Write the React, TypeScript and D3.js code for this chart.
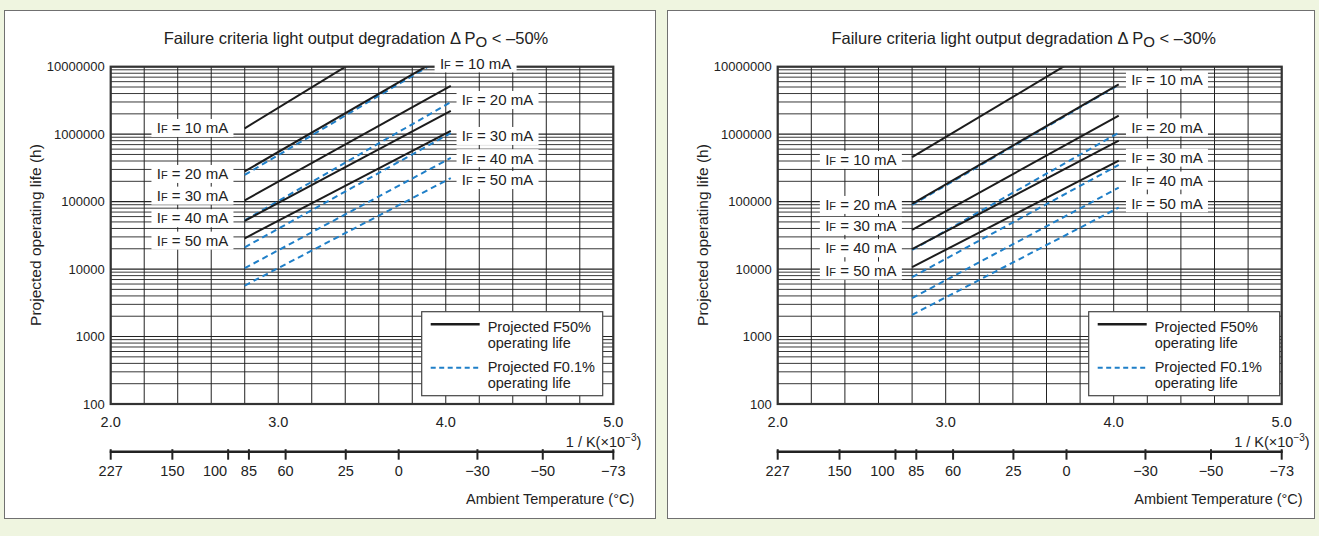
import React from "react";
import * as d3 from "d3";

// ---------------- data ----------------
const currents = ["10", "20", "30", "40", "50"];
const invKTicks = [2.0, 3.0, 4.0, 5.0];
const tempLabels = ["227", "150", "100", "85", "60", "25", "0", "\u221230", "\u221250", "\u221273"];
const tempPositions = [2.0, 2.368, 2.701, 2.825, 3.044, 3.403, 3.719, 4.189, 4.579, 5.0];
const decades = [100, 1000, 10000, 100000, 1000000, 10000000];
const lineSpan = [2.8, 4.03];

// ΔPo < -50 %
const leftF50Start = [1.22e6, 2.81e5, 1.045e5, 5.18e4, 2.86e4];
const leftF50End = [9.0e7, 1.64e7, 5.2e6, 2.22e6, 1.12e6];
const leftF01Start = [2.49e5, 5.28e4, 2.1e4, 1.03e4, 5.7e3];
const leftF01End = [1.58e7, 2.99e6, 1.04e6, 4.45e5, 2.23e5];
const leftLabelsLeftValue = [1.236e6, 2.57e5, 1.227e5, 5.68e4, 2.64e4];
const leftLabelsRightValue = [1.12e7, 3.21e6, 9.4e5, 4.4e5, 2.09e5];

// ΔPo < -30 %
const rightF50Start = [4.55e5, 9.25e4, 3.81e4, 1.97e4, 1.07e4];
const rightF50End = [3.1e7, 5.48e6, 1.88e6, 8.0e5, 4.05e5];
const rightF01Start = [8.93e4, 1.92e4, 7.6e3, 3.7e3, 2.1e3];
const rightF01End = [5.37e6, 1.05e6, 3.5e5, 1.61e5, 8.15e4];
const rightLabelsLeftValue = [4.15e5, 8.93e4, 4.37e4, 2.04e4, 9.5e3];
const rightLabelsRightValue = [6.35e6, 1.26e6, 4.49e5, 2.05e5, 9.46e4];

// ---------------- styles ----------------
const FONT = "'Liberation Sans', Arial, Helvetica, sans-serif";
const BG = "#eff5e0";
const BLACK = "#1c1c1c";
const BLUE = "#1f7fc8";
const TXT = "#222";

type PanelProps = {
  id: string;
  box: [number, number, number, number];
  plotLeft: number;
  plotWidth: number;
  pct: string;
  f50Start: number[];
  f50End: number[];
  f01Start: number[];
  f01End: number[];
  labelsLeftX: number;
  labelsLeftValue: number[];
  labelsRightX: number[];
  labelsRightValue: number[];
  legendWidth: number;
};

const IFLabel = ({ cx, cy, cur }: { cx: number; cy: number; cur: string }) => (
  <g>
    <rect x={cx - 41} y={cy - 9} width={82} height={18} fill="#fff" />
    <text x={cx} y={cy + 5.3} textAnchor="middle" fontSize={15} fill={TXT}>
      I<tspan fontSize={11}>F</tspan> = {cur} mA
    </text>
  </g>
);

function Panel(p: PanelProps) {
  const pl = p.plotLeft;
  const pr = pl + p.plotWidth;
  const top = 66.7;
  const bottom = 404;
  const x = d3.scaleLinear().domain([2, 5]).range([pl, pr]);
  const y = d3.scaleLog().domain([100, 1e7]).range([bottom, top]);
  const minor: number[] = [];
  decades.slice(0, -1).forEach((d) => {
    for (let m = 2; m <= 9; m++) minor.push(d * m);
  });
  const vgrid = d3.range(0, 16).map((i) => 2 + i * 0.2);
  const line = d3
    .line<[number, number]>()
    .x((d) => x(d[0]))
    .y((d) => y(d[1]));
  const clipId = `clip-${p.id}`;
  const axisY = 451.7;
  const legX = pl + 311;
  const legY = 311.7;
  return (
    <g fontFamily={FONT}>
      <rect x={p.box[0]} y={p.box[1]} width={p.box[2]} height={p.box[3]} fill="#fff" stroke="#707070" strokeWidth={1} />
      <text x={(pl + pr) / 2 - 6} y={44} textAnchor="middle" fontSize={16.5} fill={TXT}>
        Failure criteria light output degradation {"\u0394"} P<tspan fontSize={15} dy={3}>O</tspan>
        <tspan dy={-3}> {"< \u2013" + p.pct}</tspan>
      </text>
      <defs>
        <clipPath id={clipId}>
          <rect x={pl} y={top} width={pr - pl} height={bottom - top} />
        </clipPath>
      </defs>
      {/* grid */}
      {minor.map((v) => (
        <line key={"m" + v} x1={pl} x2={pr} y1={y(v)} y2={y(v)} stroke="#222" strokeWidth={0.9} />
      ))}
      {decades.map((v) => (
        <line key={"d" + v} x1={pl} x2={pr} y1={y(v)} y2={y(v)} stroke="#222" strokeWidth={1.1} />
      ))}
      {vgrid.map((v) => (
        <line key={"v" + v} x1={x(v)} x2={x(v)} y1={top} y2={bottom} stroke="#222" strokeWidth={1} />
      ))}
      {/* data lines */}
      <g clipPath={`url(#${clipId})`}>
        {currents.map((c, i) => (
          <path
            key={"b" + c}
            d={line([
              [lineSpan[0], p.f01Start[i]],
              [lineSpan[1], p.f01End[i]],
            ]) as string}
            stroke={BLUE}
            strokeWidth={2}
            strokeDasharray="6,4"
            fill="none"
          />
        ))}
        {currents.map((c, i) => (
          <path
            key={"k" + c}
            d={line([
              [lineSpan[0], p.f50Start[i]],
              [lineSpan[1], p.f50End[i]],
            ]) as string}
            stroke={BLACK}
            strokeWidth={2}
            fill="none"
          />
        ))}
      </g>
      {/* plot frame */}
      <rect x={pl} y={top} width={pr - pl} height={bottom - top} fill="none" stroke="#333" strokeWidth={2.2} />
      {/* IF labels */}
      {currents.map((c, i) => (
        <IFLabel key={"ll" + c} cx={x(p.labelsLeftX)} cy={y(p.labelsLeftValue[i])} cur={c} />
      ))}
      {currents.map((c, i) => (
        <IFLabel key={"lr" + c} cx={x(p.labelsRightX[i])} cy={y(p.labelsRightValue[i])} cur={c} />
      ))}
      {/* legend */}
      <rect x={legX} y={legY} width={p.legendWidth} height={84} fill="#fff" stroke="#444" strokeWidth={1.2} />
      <line x1={legX + 9} x2={legX + 58} y1={legY + 12.5} y2={legY + 12.5} stroke={BLACK} strokeWidth={2.5} />
      <text x={legX + 66} y={legY + 20.5} fontSize={14.5} fill={TXT}>Projected F50%</text>
      <text x={legX + 66} y={legY + 36} fontSize={14.5} fill={TXT}>operating life</text>
      <line x1={legX + 9} x2={legX + 58} y1={legY + 56} y2={legY + 56} stroke={BLUE} strokeWidth={2} strokeDasharray="5,3.5" />
      <text x={legX + 66} y={legY + 60.5} fontSize={14.5} fill={TXT}>Projected F0.1%</text>
      <text x={legX + 66} y={legY + 76} fontSize={14.5} fill={TXT}>operating life</text>
      {/* y axis */}
      {decades.map((v) => (
        <text key={"yt" + v} x={pl - 6} y={y(v) + 4.5} textAnchor="end" fontSize={13} fill={TXT}>
          {d3.format("d")(v)}
        </text>
      ))}
      <text transform={`translate(${pl - 70},235) rotate(-90)`} textAnchor="middle" fontSize={15.5} fill={TXT}>
        Projected operating life (h)
      </text>
      {/* 1/K axis labels */}
      {invKTicks.map((v) => (
        <text key={"xt" + v} x={x(v)} y={427} textAnchor="middle" fontSize={14.5} fill={TXT}>
          {v.toFixed(1)}
        </text>
      ))}
      <text x={pr + 28} y={446.5} textAnchor="end" fontSize={14.5} fill={TXT}>
        1 / K(×10<tspan fontSize={10} dy={-5.5}>{"\u22123"}</tspan>
        <tspan dy={5.5}>)</tspan>
      </text>
      {/* temperature axis */}
      <line x1={x(2) - 1} x2={x(5) + 1} y1={axisY} y2={axisY} stroke="#222" strokeWidth={2.5} />
      {tempPositions.map((v, i) => (
        <line key={"tt" + i} x1={x(v)} x2={x(v)} y1={axisY - 2.5} y2={axisY + 8} stroke="#222" strokeWidth={2} />
      ))}
      {tempLabels.map((t, i) => (
        <text
          key={"tl" + i}
          x={t === "100" ? x(tempPositions[i]) - 1 : x(tempPositions[i])}
          y={476}
          textAnchor={t === "100" ? "end" : "middle"}
          fontSize={14.5}
          fill={TXT}
        >
          {t}
        </text>
      ))}
      <text x={pr + 21} y={503.5} textAnchor="end" fontSize={14.5} fill={TXT}>
        Ambient Temperature (°C)
      </text>
    </g>
  );
}

export default function App() {
  return (
    <svg
      width={1319}
      height={536}
      style={{ position: "absolute", left: 0, top: 0, display: "block" }}
    >
      <rect width={1319} height={536} fill={BG} />
      <Panel
        id="l"
        box={[4.5, 10.5, 651, 508]}
        plotLeft={110.7}
        plotWidth={502.6}
        pct="50%"
        f50Start={leftF50Start}
        f50End={leftF50End}
        f01Start={leftF01Start}
        f01End={leftF01End}
        labelsLeftX={2.488}
        labelsLeftValue={leftLabelsLeftValue}
        labelsRightX={[4.178, 4.309, 4.309, 4.309, 4.309]}
        labelsRightValue={leftLabelsRightValue}
        legendWidth={181}
      />
      <Panel
        id="r"
        box={[667.5, 10.5, 647, 508]}
        plotLeft={777.7}
        plotWidth={504}
        pct="30%"
        f50Start={rightF50Start}
        f50End={rightF50End}
        f01Start={rightF01Start}
        f01End={rightF01End}
        labelsLeftX={2.495}
        labelsLeftValue={rightLabelsLeftValue}
        labelsRightX={[4.317, 4.317, 4.317, 4.317, 4.317]}
        labelsRightValue={rightLabelsRightValue}
        legendWidth={191}
      />
    </svg>
  );
}
